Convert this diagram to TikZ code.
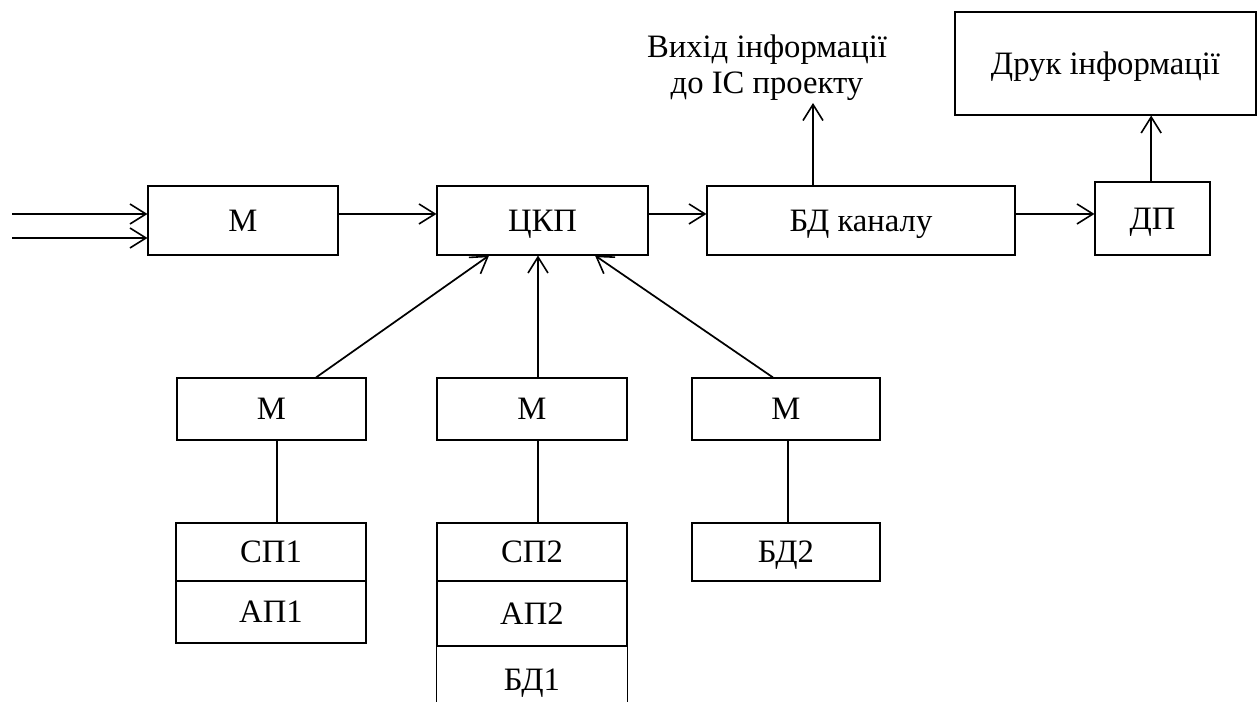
\documentclass[tikz,border=0pt]{standalone}
\usepackage{fontspec}
\setmainfont{Liberation Serif}
\usetikzlibrary{arrows.meta}
\begin{document}
\begin{tikzpicture}[x=0.75pt,y=-0.75pt,
  box/.style={draw, line width=0.8pt, inner sep=0pt, font=\fontsize{24.5}{27}\selectfont, text height=16.2pt, text depth=0pt},
  arr/.style={line width=1.3pt, -{Straight Barb[length=12pt,width=15pt,line width=1.2pt]}},
  ln/.style={line width=1.3pt},
  lbl/.style={font=\fontsize{24.5}{27}\selectfont, align=center, inner sep=0pt}]
\useasboundingbox (0,0) rectangle (1258,702);
% top row
\node[box, minimum width=142.5pt, minimum height=51.75pt] (m1) at (243,220.5) {М};
\node[box, minimum width=158.25pt, minimum height=51.75pt] (ckp) at (542.5,220.5) {ЦКП};
\node[box, minimum width=231pt, minimum height=51.75pt] (bdk) at (861,220.5) {БД каналу};
\node[box, minimum width=86.25pt, minimum height=54.75pt] (dp) at (1152.5,218.5) {ДП};
\node[box, minimum width=225.75pt, minimum height=77.25pt] (druk) at (1105.5,63.5) {Друк інформації};
\node[lbl] (vyh) at (767,68) {Вихід інформації\\до ІС проекту};
\coordinate (vout) at (813,103);
\coordinate (in1) at (12,214);
\coordinate (in2) at (12,238);
% middle row
\node[box, minimum width=141.75pt, minimum height=46.5pt] (ma) at (271.5,409) {М};
\node[box, minimum width=142.5pt, minimum height=46.5pt] (mb) at (532,409) {М};
\node[box, minimum width=141pt, minimum height=46.5pt] (mc) at (786,409) {М};
% bottom stacks
\node[box, minimum width=142.5pt, minimum height=43.5pt] (sp1) at (271,552) {СП1};
\node[box, minimum width=142.5pt, minimum height=46.5pt] (ap1) at (271,612) {АП1};
\node[box, minimum width=142.5pt, minimum height=43.5pt] (sp2) at (532,552) {СП2};
\node[box, minimum width=142.5pt, minimum height=48.75pt] (ap2) at (532,613.5) {АП2};
\node[box, draw=none, minimum width=142.5pt, minimum height=51pt] (bd1) at (532,680) {БД1};
\node[box, minimum width=141pt, minimum height=43.5pt] (bd2) at (786,552) {БД2};
\draw[line width=0.8pt] (ap2.south west) -- (ap2.south west |- 0,702);
\draw[line width=0.8pt] (ap2.south east) -- (ap2.south east |- 0,702);
% connectors
\draw[arr] (in1) -- (in1 -| m1.west);
\draw[arr] (in2) -- (in2 -| m1.west);
\draw[arr] ([yshift=4.9pt]m1.east) -- ([yshift=4.9pt]m1.east -| ckp.west);
\draw[arr] ([yshift=4.9pt]ckp.east) -- ([yshift=4.9pt]ckp.east -| bdk.west);
\draw[arr] ([yshift=4.9pt]bdk.east) -- ([yshift=4.9pt]bdk.east -| dp.west);
\draw[arr] (vout |- bdk.north) -- (vout);
\draw[arr] ([xshift=-1pt]dp.north) -- ([xshift=-1pt]dp.north |- druk.south);
\draw[arr] ([xshift=33.4pt]ma.north) -- ([xshift=-40.1pt]ckp.south);
\draw[arr] ([xshift=4.5pt]mb.north) -- ([xshift=4.5pt]mb.north |- ckp.south);
\draw[arr] ([xshift=-9.75pt]mc.north) -- ([xshift=39.4pt]ckp.south);
\draw[ln] ([xshift=4.1pt]ma.south) -- ([xshift=4.1pt]ma.south |- sp1.north);
\draw[ln] ([xshift=4.5pt]mb.south) -- ([xshift=4.5pt]mb.south |- sp2.north);
\draw[ln] ([xshift=1.5pt]mc.south) -- ([xshift=1.5pt]mc.south |- bd2.north);
\end{tikzpicture}
\end{document}
